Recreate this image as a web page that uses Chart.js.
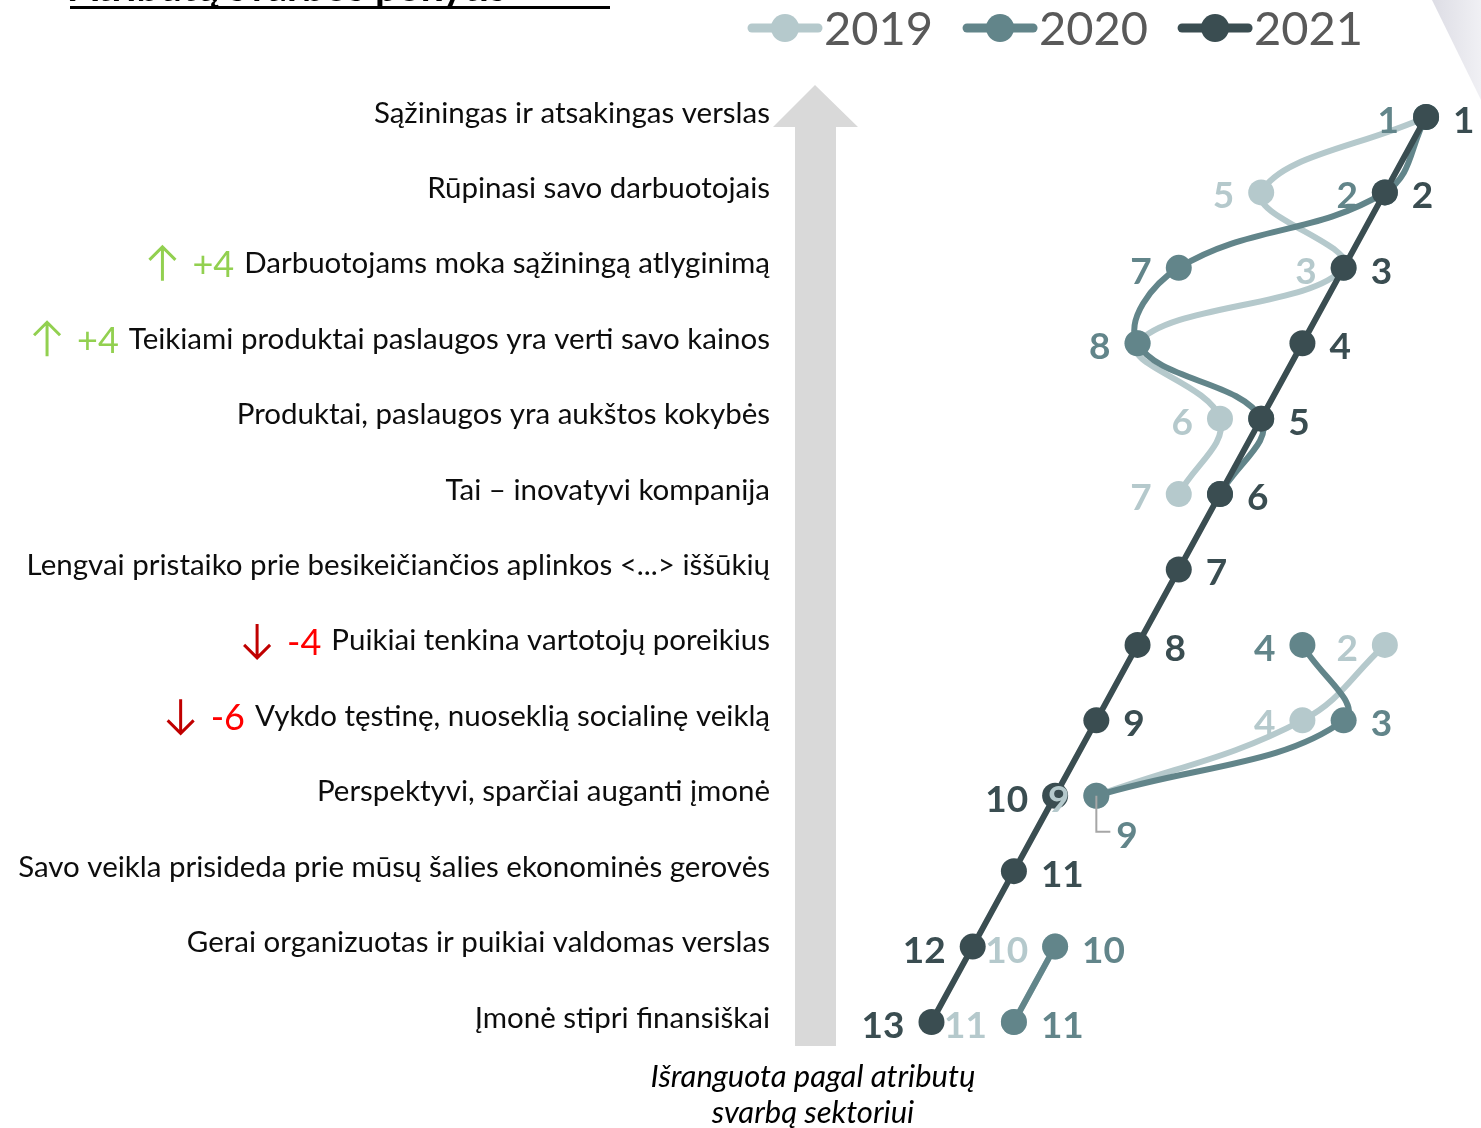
<!DOCTYPE html>
<html>
<head>
<meta charset="utf-8">
<script src="https://cdn.jsdelivr.net/npm/chart.js@4.4.1/dist/chart.umd.min.js"></script>
<style>
  html, body { margin: 0; padding: 0; background: #fff; }
  #wrap { width: 1481px; height: 1128px; position: relative; }
</style>
</head>
<body>
<div id="wrap"><canvas id="rankChart"></canvas></div>
<script>
// Atributai, išrikiuoti pagal svarbą (2021)
const attributes = [
  "Sąžiningas ir atsakingas verslas",
  "Rūpinasi savo darbuotojais",
  "Darbuotojams moka sąžiningą atlyginimą",
  "Teikiami produktai paslaugos yra verti savo kainos",
  "Produktai, paslaugos yra aukštos kokybės",
  "Tai – inovatyvi kompanija",
  "Lengvai pristaiko prie besikeičiančios aplinkos <...> iššūkių",
  "Puikiai tenkina vartotojų poreikius",
  "Vykdo tęstinę, nuoseklią socialinę veiklą",
  "Perspektyvi, sparčiai auganti įmonė",
  "Savo veikla prisideda prie mūsų šalies ekonominės gerovės",
  "Gerai organizuotas ir puikiai valdomas verslas",
  "Įmonė stipri finansiškai"
];

const years = ["2019", "2020", "2021"];
const rank2019 = [1, 5, 3, 8, 6, 7, null, 2, 4, 9, null, 10, 11];
const rank2020 = [1, 2, 7, 8, 5, 6, null, 4, 3, 9, null, 10, 11];
const rank2021 = [1, 2, 3, 4, 5, 6, 7, 8, 9, 10, 11, 12, 13];
const rankChange = [null, null, 4, 4, null, null, null, -4, -6, null, null, null, null];

const titleText = "Atributų svarbos pokytis";
const captionLines = ["Išranguota pagal atributų", "svarbą sektoriui"];

// etikečių vieta: L = kairėje, R = dešinėje, B = žemiau dešinėje, "" = nerodoma
const labelSide2019 = ["", "L", "L", "", "L", "L", "", "L", "L", "L", "", "L", "L"];
const labelSide2020 = ["L", "L", "L", "L", "", "", "", "L", "R", "B", "", "R", "R"];
const labelSide2021 = ["R", "R", "R", "R", "R", "R", "R", "R", "R", "L", "R", "L", "L"];

const colors = ["#b5c9cc", "#62858a", "#3a4d51"];
const fontFamily = "Lato, 'Open Sans', sans-serif";
const catFontSize = 29.5;

const decorPlugin = {
  id: "decor",
  beforeDatasetsDraw(chart) {
    const ctx = chart.ctx;
    ctx.save();

    // pavadinimas (nukirptas viršuje)
    ctx.fillStyle = "#000";
    ctx.font = "bold 40px " + fontFamily;
    ctx.textBaseline = "alphabetic";
    ctx.textAlign = "left";
    ctx.fillText(titleText, 70, 1);
    ctx.fillRect(70, 6, 540, 3);

    // pilkas trikampis dešinėje viršuje
    const grad = ctx.createLinearGradient(1430, 0, 1481, 0);
    grad.addColorStop(0, "#dcdce4");
    grad.addColorStop(1, "#f0f0f4");
    ctx.fillStyle = grad;
    ctx.beginPath();
    ctx.moveTo(1432, 0);
    ctx.lineTo(1481, 0);
    ctx.lineTo(1481, 100);
    ctx.closePath();
    ctx.fill();

    // didelė pilka rodyklė
    ctx.fillStyle = "#d9d9d9";
    ctx.beginPath();
    ctx.moveTo(815, 85);
    ctx.lineTo(858, 127);
    ctx.lineTo(836, 127);
    ctx.lineTo(836, 1046);
    ctx.lineTo(795, 1046);
    ctx.lineTo(795, 127);
    ctx.lineTo(773, 127);
    ctx.closePath();
    ctx.fill();

    // paaiškinimas apačioje
    ctx.fillStyle = "#000";
    ctx.font = "italic 31px " + fontFamily;
    ctx.textAlign = "center";
    ctx.textBaseline = "middle";
    ctx.fillText(captionLines[0], 813, 1077);
    ctx.fillText(captionLines[1], 813, 1113);

    // legenda
    let x = 748;
    ctx.font = "47px " + fontFamily;
    ctx.textAlign = "left";
    ctx.textBaseline = "alphabetic";
    years.forEach((yr, i) => {
      ctx.strokeStyle = colors[i];
      ctx.lineWidth = 9;
      ctx.lineCap = "round";
      ctx.beginPath();
      ctx.moveTo(x + 4, 28);
      ctx.lineTo(x + 70, 28);
      ctx.stroke();
      ctx.fillStyle = colors[i];
      ctx.beginPath();
      ctx.arc(x + 37, 28, 14, 0, Math.PI * 2);
      ctx.fill();
      ctx.fillStyle = "#595959";
      ctx.fillText(yr, x + 76, 45);
      x += 76 + ctx.measureText(yr).width + 30;
    });

    // pokyčio rodyklės prie kategorijų
    const yScale = chart.scales.y;
    const labelRight = yScale.right - yScale.options.ticks.padding;
    rankChange.forEach((chg, i) => {
      if (chg === null) return;
      const y = yScale.getPixelForValue(i) - 4;
      ctx.font = catFontSize + "px " + fontFamily;
      const textLeft = labelRight - ctx.measureText(attributes[i]).width;
      const col = chg > 0 ? "#92d050" : "#ff0000";
      const arrowCol = chg > 0 ? "#92d050" : "#c00000";
      const txt = (chg > 0 ? "+" : "") + chg;
      ctx.font = "36px " + fontFamily;
      ctx.fillStyle = col;
      ctx.textAlign = "right";
      ctx.textBaseline = "middle";
      const numRight = textLeft - 10;
      ctx.fillText(txt, numRight, y + 2);
      const ax = numRight - ctx.measureText(txt).width - 30;
      ctx.strokeStyle = arrowCol;
      ctx.lineWidth = 3;
      ctx.lineCap = "butt";
      const dir = chg > 0 ? -1 : 1;
      ctx.beginPath();
      ctx.moveTo(ax, y - dir * 17);
      ctx.lineTo(ax, y + dir * 17);
      ctx.moveTo(ax - 13, y + dir * 4);
      ctx.lineTo(ax, y + dir * 17);
      ctx.lineTo(ax + 13, y + dir * 4);
      ctx.stroke();
    });

    ctx.restore();
  },
  afterDatasetsDraw(chart) {
    const ctx = chart.ctx;
    const sides = [labelSide2019, labelSide2020, labelSide2021];
    ctx.save();
    ctx.font = "bold 37px " + fontFamily;
    ctx.textBaseline = "middle";
    chart.data.datasets.forEach((ds, di) => {
      const meta = chart.getDatasetMeta(di);
      meta.data.forEach((pt, i) => {
        const v = ds.data[i];
        const side = sides[di][i];
        if (v === null || !side) return;
        ctx.fillStyle = colors[di];
        if (side === "L") {
          ctx.textAlign = "right";
          ctx.fillText(String(v), pt.x - 27, pt.y + 4);
        } else if (side === "R") {
          ctx.textAlign = "left";
          ctx.fillText(String(v), pt.x + 27, pt.y + 4);
        } else if (side === "B") {
          ctx.strokeStyle = "#a6a6a6";
          ctx.lineWidth = 2;
          ctx.beginPath();
          ctx.moveTo(pt.x, pt.y);
          ctx.lineTo(pt.x, pt.y + 36);
          ctx.lineTo(pt.x + 14, pt.y + 36);
          ctx.stroke();
          ctx.textAlign = "left";
          ctx.fillText(String(v), pt.x + 20, pt.y + 40);
        }
      });
    });
    ctx.restore();
  }
};

function makeDataset(label, data, idx, tension, order) {
  return {
    label: label,
    data: data,
    borderColor: colors[idx],
    backgroundColor: colors[idx],
    pointBackgroundColor: colors[idx],
    pointBorderWidth: 0,
    pointRadius: 13,
    borderWidth: 6,
    tension: tension,
    spanGaps: false,
    clip: false,
    order: order
  };
}

new Chart(document.getElementById("rankChart"), {
  type: "line",
  data: {
    labels: attributes,
    datasets: [
      makeDataset(years[0], rank2019, 0, 0.4, 2),
      makeDataset(years[1], rank2020, 1, 0.4, 1),
      makeDataset(years[2], rank2021, 2, 0, 0)
    ]
  },
  options: {
    indexAxis: "y",
    responsive: true,
    maintainAspectRatio: false,
    animation: false,
    layout: { padding: { top: 117, bottom: 106, left: 0, right: 0 } },
    plugins: {
      legend: { display: false },
      tooltip: { enabled: false }
    },
    scales: {
      x: {
        type: "linear",
        reverse: true,
        min: -0.0175,
        max: 16.19,
        display: false
      },
      y: {
        type: "category",
        offset: false,
        afterFit: (scale) => { scale.width = 800; },
        grid: { display: false, drawTicks: false },
        border: { display: false },
        ticks: {
          padding: 30,
          labelOffset: -4,
          color: "#0d0d0d",
          font: { family: fontFamily, size: catFontSize },
          autoSkip: false
        }
      }
    }
  },
  plugins: [decorPlugin]
});
</script>
</body>
</html>
